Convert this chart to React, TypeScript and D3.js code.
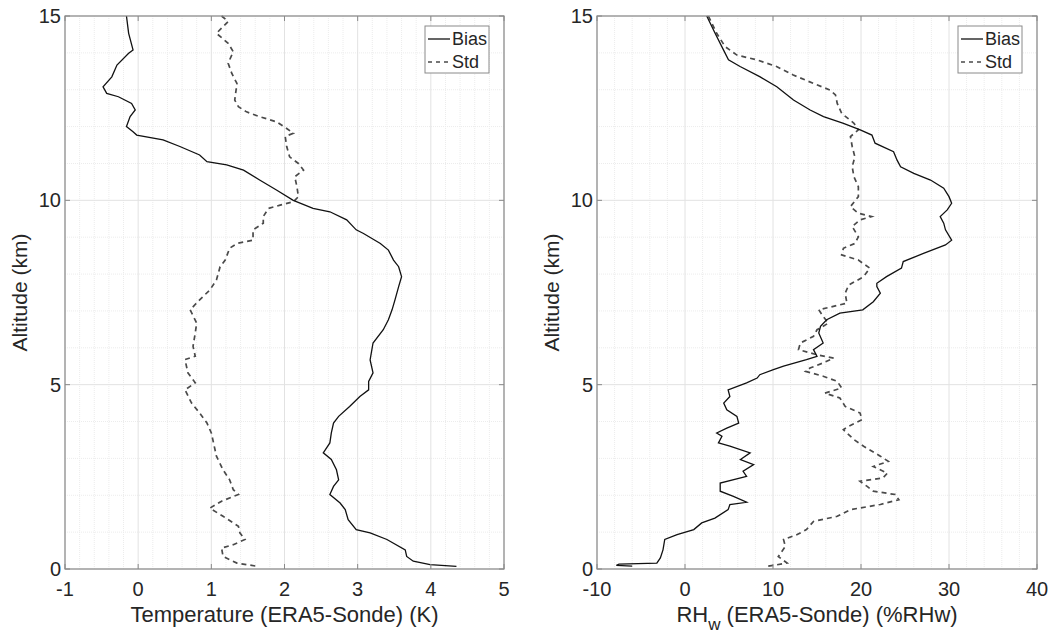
import React from "react";
import * as d3 from "d3";

// ---------- DATA (altitude km, value) ----------
const tempBias: [number, number][] = [
  [15.0, -0.16], [14.53, -0.13], [14.08, -0.07], [13.99, -0.13], [13.67, -0.29], [13.35, -0.36],
  [13.08, -0.48], [12.9, -0.43], [12.81, -0.27], [12.63, -0.09], [12.45, -0.04], [12.27, -0.11],
  [12.0, -0.16], [11.86, -0.07], [11.77, -0.02], [11.64, 0.34], [11.46, 0.57], [11.23, 0.84],
  [11.05, 0.94], [10.96, 1.21], [10.82, 1.44], [10.55, 1.66], [10.28, 1.89], [10.0, 2.12],
  [9.78, 2.39], [9.69, 2.62], [9.47, 2.85], [9.2, 2.98], [9.1, 3.08], [8.83, 3.31], [8.65, 3.42],
  [8.38, 3.49], [8.2, 3.56], [7.93, 3.6], [7.66, 3.56], [7.3, 3.51], [7.03, 3.47], [6.76, 3.42],
  [6.49, 3.35], [6.13, 3.21], [5.67, 3.17], [5.32, 3.21], [5.09, 3.15], [4.86, 3.15], [4.68, 3.03],
  [4.41, 2.89], [4.14, 2.74], [3.96, 2.67], [3.69, 2.64], [3.42, 2.62], [3.15, 2.53], [2.97, 2.64],
  [2.69, 2.71], [2.42, 2.74], [2.24, 2.67], [2.02, 2.62], [1.79, 2.76], [1.61, 2.83], [1.34, 2.87],
  [1.07, 2.98], [0.98, 3.17], [0.8, 3.4], [0.52, 3.65], [0.34, 3.67], [0.21, 3.76], [0.12, 3.99],
  [0.07, 4.35],
];

const tempStd: [number, number][] = [
  [15.0, 1.14], [14.85, 1.23], [14.53, 1.07], [14.26, 1.23], [14.03, 1.3], [13.72, 1.23],
  [13.44, 1.28], [13.17, 1.35], [12.72, 1.32], [12.54, 1.37], [12.4, 1.48], [12.27, 1.66],
  [12.13, 1.89], [11.95, 2.03], [11.82, 2.12], [11.73, 2.01], [11.46, 2.03], [11.18, 2.07],
  [11.0, 2.19], [10.82, 2.26], [10.64, 2.14], [10.37, 2.17], [10.1, 2.19], [9.96, 2.12],
  [9.87, 1.94], [9.78, 1.78], [9.56, 1.71], [9.38, 1.71], [9.2, 1.57], [8.92, 1.57], [8.83, 1.35],
  [8.7, 1.25], [8.38, 1.19], [8.2, 1.12], [7.84, 1.07], [7.57, 0.98], [7.3, 0.84], [7.03, 0.71],
  [6.67, 0.8], [6.4, 0.78], [6.04, 0.75], [5.77, 0.78], [5.68, 0.64], [5.32, 0.68], [5.05, 0.78],
  [4.86, 0.64], [4.5, 0.73], [4.23, 0.84], [3.96, 0.94], [3.69, 1.0], [3.42, 1.03], [3.06, 1.07],
  [2.69, 1.16], [2.42, 1.25], [2.15, 1.3], [2.02, 1.37], [1.84, 1.14], [1.65, 0.98], [1.43, 1.16],
  [1.16, 1.37], [0.98, 1.39], [0.8, 1.46], [0.66, 1.3], [0.57, 1.14], [0.34, 1.16], [0.16, 1.35],
  [0.07, 1.64],
];

const rhBias: [number, number][] = [
  [15.0, 2.47], [14.53, 3.42], [14.08, 4.37], [13.81, 4.94], [13.63, 6.26], [13.35, 8.54],
  [13.08, 10.43], [12.72, 12.33], [12.45, 14.22], [12.27, 15.74], [12.09, 18.01], [11.91, 19.91],
  [11.77, 21.24], [11.55, 21.6], [11.32, 23.7], [11.09, 24.1], [10.91, 24.5], [10.73, 26.0],
  [10.55, 27.9], [10.33, 29.4], [10.1, 30.0], [9.92, 30.3], [9.74, 29.8], [9.56, 29.0],
  [9.38, 29.4], [9.2, 29.6], [8.92, 30.3], [8.79, 29.6], [8.56, 27.1], [8.34, 24.8], [8.16, 24.6],
  [7.93, 22.9], [7.75, 21.8], [7.66, 21.8], [7.48, 22.2], [7.25, 21.4], [7.03, 20.2], [6.94, 17.6],
  [6.76, 16.1], [6.58, 15.4], [6.4, 15.2], [6.13, 15.7], [5.95, 14.6], [5.77, 15.0], [5.68, 13.8],
  [5.5, 11.2], [5.41, 10.05], [5.27, 8.5], [5.18, 8.2], [5.05, 7.0], [4.86, 4.9], [4.68, 5.1],
  [4.5, 4.4], [4.32, 4.75], [4.14, 5.9], [3.96, 6.1], [3.82, 4.75], [3.69, 3.6], [3.6, 4.2],
  [3.42, 3.8], [3.33, 5.1], [3.15, 7.4], [2.97, 6.3], [2.83, 7.8], [2.65, 6.6], [2.51, 7.0],
  [2.33, 4.0], [2.11, 4.0], [1.97, 5.5], [1.81, 7.0], [1.75, 5.1], [1.61, 4.9], [1.38, 3.4],
  [1.25, 1.9], [1.07, 1.0], [0.93, -0.9], [0.8, -2.3], [0.52, -2.5], [0.3, -2.8], [0.16, -3.2],
  [0.13, -7.5], [0.1, -7.8], [0.08, -6.0],
];

const rhStd: [number, number][] = [
  [15.0, 2.66], [14.53, 3.6], [14.17, 4.56], [13.94, 5.9], [13.81, 8.16], [13.63, 10.4],
  [13.4, 12.3], [13.17, 14.6], [12.99, 16.5], [12.86, 17.1], [12.63, 17.3], [12.36, 17.8],
  [12.09, 19.2], [11.91, 19.7], [11.73, 18.8], [11.46, 19.0], [11.18, 19.3], [10.91, 19.0],
  [10.64, 19.2], [10.37, 19.7], [10.1, 19.7], [9.83, 18.8], [9.65, 19.7], [9.56, 21.2],
  [9.47, 19.9], [9.29, 19.0], [9.01, 19.7], [8.83, 19.3], [8.7, 18.0], [8.52, 17.8], [8.38, 19.7],
  [8.16, 21.0], [7.93, 20.3], [7.7, 18.6], [7.48, 18.2], [7.21, 18.4], [7.03, 15.2], [6.85, 15.7],
  [6.67, 16.3], [6.49, 15.0], [6.31, 14.6], [6.13, 13.1], [5.95, 12.9], [5.81, 15.0], [5.72, 16.9],
  [5.59, 15.7], [5.45, 14.2], [5.36, 13.7], [5.23, 15.7], [5.09, 17.3], [4.91, 17.8], [4.77, 15.9],
  [4.64, 17.6], [4.41, 18.2], [4.23, 19.9], [4.05, 20.1], [3.87, 18.6], [3.78, 18.0], [3.51, 19.2],
  [3.33, 20.3], [3.06, 22.2], [2.92, 23.1], [2.78, 21.4], [2.6, 23.0], [2.47, 22.5], [2.38, 19.9],
  [2.24, 20.7], [2.11, 21.4], [2.02, 23.9], [1.88, 24.3], [1.75, 22.2], [1.61, 18.8], [1.43, 17.3],
  [1.29, 14.6], [1.07, 13.8], [0.93, 12.7], [0.8, 11.2], [0.61, 11.4], [0.34, 10.6], [0.16, 11.6],
  [0.07, 9.3],
];

const altTicks = [0, 5, 10, 15];
const tempTicks = [-1, 0, 1, 2, 3, 4, 5];
const rhTicks = [-10, 0, 10, 20, 30, 40];
const legendLabels = ["Bias", "Std"];

const FONT = "'Liberation Sans', Arial, Helvetica, sans-serif";

type PanelProps = {
  left: number;
  right: number;
  xDomain: [number, number];
  xTicks: number[];
  minorStep: number;
  bias: [number, number][];
  std: [number, number][];
  xLabel: React.ReactNode;
};

const TOP = 16;
const BOTTOM = 569;

function Panel({ left, right, xDomain, xTicks, minorStep, bias, std, xLabel }: PanelProps) {
  const x = d3.scaleLinear().domain(xDomain).range([left, right]);
  const y = d3.scaleLinear().domain([0, 15]).range([BOTTOM, TOP]);
  const line = d3
    .line<[number, number]>()
    .x((d) => x(d[1]))
    .y((d) => y(d[0]));

  const minorX = d3
    .range(xDomain[0], xDomain[1] + 1e-9, minorStep)
    .filter((v) => !xTicks.some((t) => Math.abs(t - v) < 1e-6));
  const minorY = d3.range(0, 15.0001, 1).filter((v) => !altTicks.includes(v));
  const tickLen = 5;
  const legX = right - 79;
  const legY = TOP + 10;

  return (
    <g>
      {/* minor grid */}
      {minorX.map((v, i) => (
        <line key={"mx" + i} x1={x(v)} x2={x(v)} y1={TOP} y2={BOTTOM} stroke="#ececec" strokeWidth={1} strokeDasharray="1,1" />
      ))}
      {minorY.map((v, i) => (
        <line key={"my" + i} x1={left} x2={right} y1={y(v)} y2={y(v)} stroke="#ececec" strokeWidth={1} strokeDasharray="1,1" />
      ))}
      {/* major grid */}
      {xTicks.map((v, i) => (
        <line key={"gx" + i} x1={x(v)} x2={x(v)} y1={TOP} y2={BOTTOM} stroke="#e2e2e2" strokeWidth={1} />
      ))}
      {altTicks.map((v, i) => (
        <line key={"gy" + i} x1={left} x2={right} y1={y(v)} y2={y(v)} stroke="#e2e2e2" strokeWidth={1} />
      ))}
      {/* lines */}
      <path d={line(std) || ""} fill="none" stroke="#4a4a4a" strokeWidth={1.7} strokeDasharray="5,4" />
      <path d={line(bias) || ""} fill="none" stroke="#111" strokeWidth={1.3} />
      {/* box */}
      <rect x={left} y={TOP} width={right - left} height={BOTTOM - TOP} fill="none" stroke="#8a8a8a" strokeWidth={1.2} />
      {/* ticks */}
      {xTicks.map((v, i) => (
        <g key={"tx" + i}>
          <line x1={x(v)} x2={x(v)} y1={BOTTOM} y2={BOTTOM - tickLen} stroke="#8a8a8a" />
          <line x1={x(v)} x2={x(v)} y1={TOP} y2={TOP + tickLen} stroke="#8a8a8a" />
          <text x={x(v)} y={596} textAnchor="middle" fontSize={20} fill="#262626" fontFamily={FONT}>
            {v}
          </text>
        </g>
      ))}
      {altTicks.map((v, i) => (
        <g key={"ty" + i}>
          <line x1={left} x2={left + tickLen} y1={y(v)} y2={y(v)} stroke="#8a8a8a" />
          <line x1={right} x2={right - tickLen} y1={y(v)} y2={y(v)} stroke="#8a8a8a" />
          <text x={left - 4} y={y(v) + 7} textAnchor="end" fontSize={20} fill="#262626" fontFamily={FONT}>
            {v}
          </text>
        </g>
      ))}
      {/* axis labels */}
      <text
        transform={`translate(${left - 38},${(TOP + BOTTOM) / 2}) rotate(-90)`}
        textAnchor="middle"
        fontSize={21}
        fill="#262626"
        fontFamily={FONT}
      >
        Altitude (km)
      </text>
      <text x={(left + right) / 2} y={622} textAnchor="middle" fontSize={22} fill="#262626" fontFamily={FONT}>
        {xLabel}
      </text>
      {/* legend */}
      <rect x={legX} y={legY} width={64} height={47} fill="#fff" stroke="#8a8a8a" strokeWidth={1} />
      {legendLabels.map((lab, i) => (
        <g key={lab}>
          <line
            x1={legX + 3}
            x2={legX + 25}
            y1={legY + 13 + i * 23}
            y2={legY + 13 + i * 23}
            stroke={i === 0 ? "#111" : "#4a4a4a"}
            strokeWidth={i === 0 ? 1.3 : 1.5}
            strokeDasharray={i === 0 ? undefined : "4,4"}
          />
          <text x={legX + 27} y={legY + 19 + i * 23} fontSize={18} fill="#262626" fontFamily={FONT}>
            {lab}
          </text>
        </g>
      ))}
    </g>
  );
}

export default function App() {
  return (
    <svg
      width={1060}
      height={635}
      style={{ position: "absolute", left: 0, top: 0, background: "#fff" }}
    >
      <Panel
        left={65}
        right={504}
        xDomain={[-1, 5]}
        xTicks={tempTicks}
        minorStep={0.2}
        bias={tempBias}
        std={tempStd}
        xLabel="Temperature (ERA5-Sonde) (K)"
      />
      <Panel
        left={597}
        right={1037}
        xDomain={[-10, 40]}
        xTicks={rhTicks}
        minorStep={2}
        bias={rhBias}
        std={rhStd}
        xLabel={
          <>
            RH
            <tspan fontSize={17} dy={8}>w</tspan>
            <tspan dy={-8}> (ERA5-Sonde) (%RHw)</tspan>
          </>
        }
      />
    </svg>
  );
}
